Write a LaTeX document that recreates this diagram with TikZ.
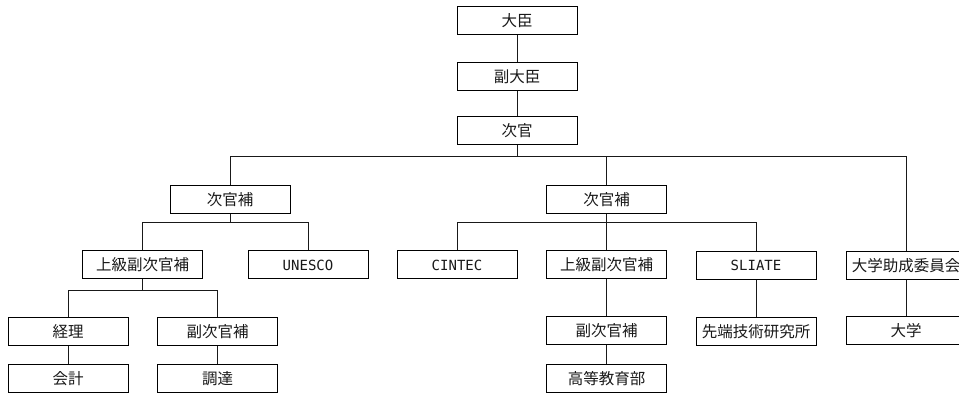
\documentclass[tikz,border=0pt]{standalone}
\usepackage{fontspec}
\setmainfont{Noto Sans CJK JP}
\newfontfamily\latinmono{DejaVu Sans Mono}
\begin{document}
\begin{tikzpicture}[x=1pt,y=-1pt,
  box/.style={draw=black, line width=1pt, minimum width=120pt, minimum height=28pt, inner sep=0pt,
    font=\fontsize{15.5}{18}\selectfont, text=black!90},
  lat/.style={font=\latinmono\fontsize{14}{16}\selectfont},
  conn/.style={draw=black!90, line width=1pt}]
\useasboundingbox (0,0) rectangle (959,403);
\clip (0,0) rectangle (959,403);
\fill[white] (0,0) rectangle (959,403);
% nodes
\node[box] (m) at (517,20.5) {大臣};
\node[box] (dm) at (517,76.5) {副大臣};
\node[box] (vs) at (517,131) {次官};
\node[box] (avsA) at (230,200) {次官補};
\node[box] (ssaA) at (142.5,265) {上級副次官補};
\node[box,lat] (unesco) at (308,265) {UNESCO};
\node[box] (keiri) at (68,332) {経理};
\node[box] (dvsA) at (217.5,332) {副次官補};
\node[box] (kaikei) at (68,378.5) {会計};
\node[box] (chotatsu) at (217.5,378.5) {調達};
\node[box] (avsB) at (606.5,200) {次官補};
\node[box,lat] (cintec) at (457,265) {CINTEC};
\node[box] (ssaB) at (606.5,265) {上級副次官補};
\node[box,lat] (sliate) at (756,265.5) {SLIATE};
\node[box] (dvsB) at (606.5,331) {副次官補};
\node[box] (hed) at (606.5,379) {高等教育部};
\node[box] (iat) at (756,332) {先端技術研究所};
\node[box] (ugc) at (906,265.5) {大学助成委員会};
\node[box] (univ) at (906,331) {大学};
% bus coordinates
\coordinate (busA) at (517,157);
\coordinate (busB) at (230,223);
\coordinate (busC) at (142.5,291);
\coordinate (busD) at (606.5,223);
% connectors
\draw[conn] (m) -- (dm);
\draw[conn] (dm) -- (vs);
\draw[conn] (vs.south) -- (busA);
\draw[conn] (avsA.north) |- (busA);
\draw[conn] (avsB.north) |- (busA);
\draw[conn] (ugc.north) |- (busA);
\draw[conn] (avsA.south) -- (busB);
\draw[conn] (ssaA.north) |- (busB);
\draw[conn] (unesco.north) |- (busB);
\draw[conn] (ssaA.south) -- (busC);
\draw[conn] (keiri.north) |- (busC);
\draw[conn] (dvsA.north) |- (busC);
\draw[conn] (keiri) -- (kaikei);
\draw[conn] (dvsA) -- (chotatsu);
\draw[conn] (avsB.south) -- (busD);
\draw[conn] (cintec.north) |- (busD);
\draw[conn] (ssaB.north) -- (busD);
\draw[conn] (sliate.north) |- (busD);
\draw[conn] (ssaB) -- (dvsB);
\draw[conn] (dvsB) -- (hed);
\draw[conn] (sliate) -- (iat);
\draw[conn] (ugc) -- (univ);
\end{tikzpicture}
\end{document}
